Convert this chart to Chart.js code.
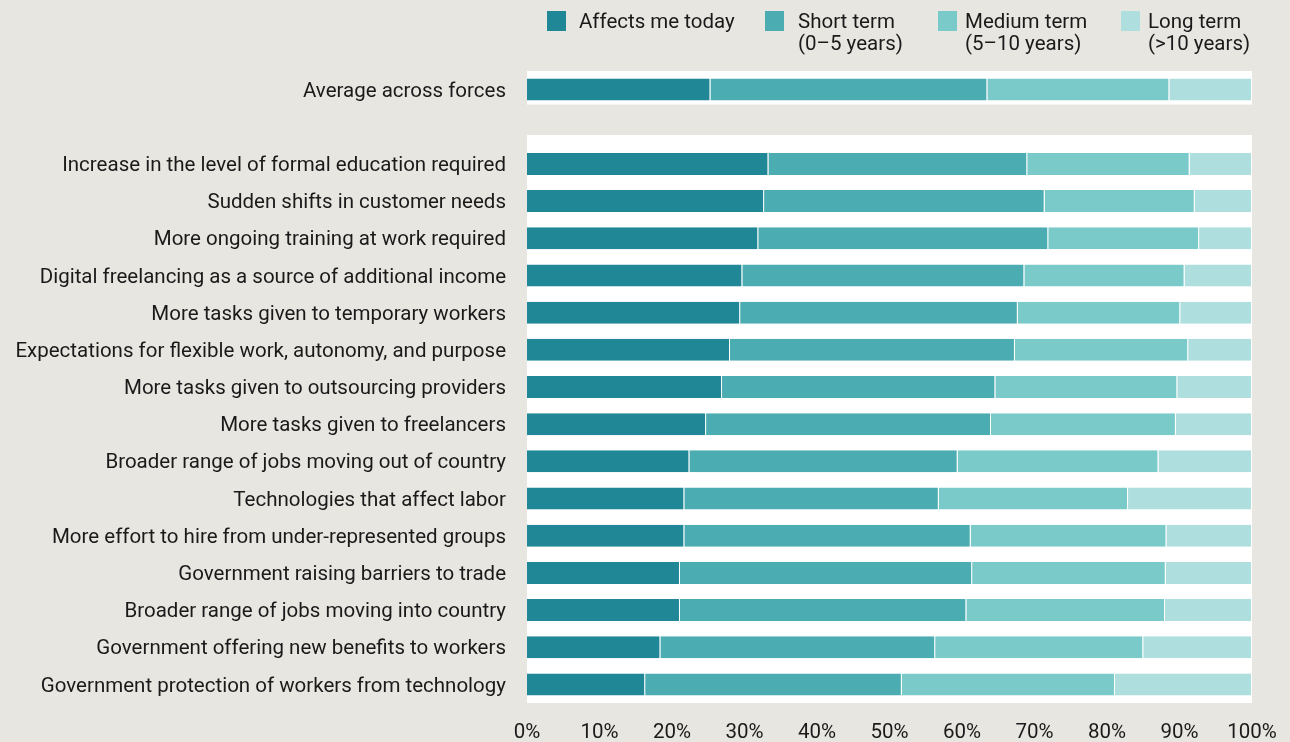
<!DOCTYPE html>
<html>
<head>
<meta charset="utf-8">
<script src="https://cdn.jsdelivr.net/npm/chart.js@4.4.1/dist/chart.umd.min.js"></script>
<style>
    html, body { margin: 0; padding: 0; background: #e8e6e1; }
    #wrap { width: 1290px; height: 742px; position: relative; }
</style>
</head>
<body>
<div id="wrap"><canvas id="chart"></canvas></div>
<script>
// rows, top to bottom ("" is the spacer row under the average)
const categories = [
    "Average across forces",
    "",
    "Increase in the level of formal education required",
    "Sudden shifts in customer needs",
    "More ongoing training at work required",
    "Digital freelancing as a source of additional income",
    "More tasks given to temporary workers",
    "Expectations for flexible work, autonomy, and purpose",
    "More tasks given to outsourcing providers",
    "More tasks given to freelancers",
    "Broader range of jobs moving out of country",
    "Technologies that affect labor",
    "More effort to hire from under-represented groups",
    "Government raising barriers to trade",
    "Broader range of jobs moving into country",
    "Government offering new benefits to workers",
    "Government protection of workers from technology"
];

const seriesNames = ["Affects me today", "Short term", "Medium term", "Long term"];
const seriesNotes = ["", "(0\u20135 years)", "(5\u201310 years)", "(>10 years)"];
const seriesColors = ["#1f8796", "#4bacb2", "#7bcaca", "#afdede"];

const affectsToday = [25.3, null, 33.3, 32.7, 31.9, 29.7, 29.4, 28.0, 26.9, 24.7, 22.4, 21.7, 21.7, 21.1, 21.1, 18.4, 16.3];
const shortTerm    = [38.2, null, 35.7, 38.7, 40.0, 38.9, 38.3, 39.3, 37.7, 39.3, 37.0, 35.1, 39.5, 40.3, 39.5, 37.9, 35.4];
const mediumTerm   = [25.1, null, 22.4, 20.7, 20.8, 22.1, 22.4, 23.9, 25.1, 25.5, 27.7, 26.1, 27.0, 26.7, 27.4, 28.7, 29.4];
const longTerm     = [11.4, null,  8.6,  7.9,  7.3,  9.3,  9.9,  8.8, 10.3, 10.5, 12.9, 17.1, 11.8, 11.9, 12.0, 15.0, 18.9];

const xTicks = [0, 10, 20, 30, 40, 50, 60, 70, 80, 90, 100];

const FONT = "Roboto";
const TEXT = "#1a1a1a";

// white panels behind the bars
const panelPlugin = {
    id: "panels",
    beforeDatasetsDraw(chart) {
        const { ctx, chartArea, scales } = chart;
        const avgY = scales.y.getPixelForValue(0);
        const firstY = scales.y.getPixelForValue(2);
        ctx.save();
        ctx.fillStyle = "#ffffff";
        ctx.fillRect(chartArea.left, chartArea.top, chartArea.width, avgY + 15 - chartArea.top);
        ctx.fillRect(chartArea.left, firstY - 29, chartArea.width, chartArea.bottom - (firstY - 29));
        ctx.restore();
    }
};

// legend along the top, two-line labels
const legendPos = [[547, 579], [765, 798], [938, 965], [1121, 1148]];
const legendPlugin = {
    id: "topLegend",
    afterDraw(chart) {
        const ctx = chart.ctx;
        ctx.save();
        ctx.font = "20.5px " + FONT;
        ctx.textBaseline = "alphabetic";
        ctx.textAlign = "left";
        chart.data.datasets.forEach((ds, i) => {
            const [sx, tx] = legendPos[i];
            ctx.fillStyle = ds.backgroundColor;
            ctx.fillRect(sx, 11, 19, 20);
            ctx.fillStyle = TEXT;
            ctx.fillText(seriesNames[i], tx, 28);
            if (seriesNotes[i]) ctx.fillText(seriesNotes[i], tx, 50);
        });
        ctx.restore();
    }
};

const datasets = [affectsToday, shortTerm, mediumTerm, longTerm].map((values, i) => ({
    label: seriesNames[i],
    data: values,
    backgroundColor: seriesColors[i],
    borderColor: "rgba(255,255,255,0.45)",
    borderWidth: { left: 0, right: 1, top: 0, bottom: 0 },
    borderSkipped: false,
    categoryPercentage: 1,
    barPercentage: 0.592
}));

new Chart(document.getElementById("chart"), {
    type: "bar",
    data: { labels: categories, datasets: datasets },
    options: {
        indexAxis: "y",
        responsive: true,
        maintainAspectRatio: false,
        animation: false,
        layout: { padding: { top: 71, right: 38, left: 0, bottom: 0 } },
        plugins: {
            legend: { display: false },
            tooltip: { callbacks: { label: c => c.dataset.label + ": " + c.parsed.x + "%" } }
        },
        scales: {
            x: {
                stacked: true,
                min: 0,
                max: 100,
                afterBuildTicks: scale => { scale.ticks = xTicks.map(v => ({ value: v })); },
                afterFit: scale => {
                    scale.height = 39;
                    scale.paddingLeft = 0;
                    scale.paddingRight = 0;
                },
                grid: { display: false, drawTicks: false },
                border: { display: false },
                ticks: {
                    padding: 18,
                    color: TEXT,
                    font: { family: FONT, size: 20.5 },
                    callback: v => v + "%"
                }
            },
            y: {
                stacked: true,
                afterFit: scale => { scale.width = 527; },
                grid: { display: false, drawTicks: false },
                border: { display: false },
                ticks: {
                    padding: 21,
                    labelOffset: 2,
                    color: TEXT,
                    autoSkip: false,
                    font: { family: FONT, size: 20.5 }
                }
            }
        }
    },
    plugins: [panelPlugin, legendPlugin]
});
</script>
</body>
</html>
